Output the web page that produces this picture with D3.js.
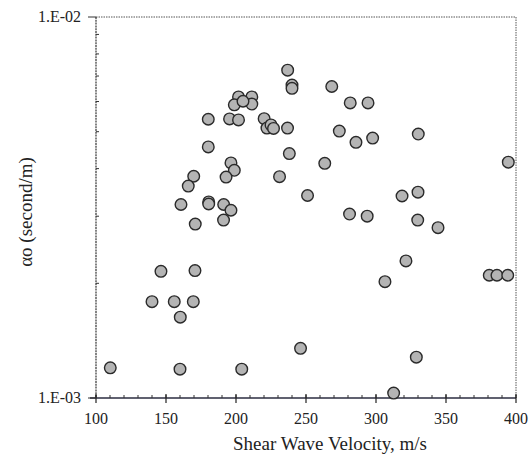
<!DOCTYPE html>
<html>
<head>
<meta charset="utf-8">
<script src="https://cdn.jsdelivr.net/npm/d3@7"></script>
<style>
  body { margin: 0; background: #fff; }
  text { font-family: "Liberation Serif", "Times New Roman", serif; fill: #222; }
</style>
</head>
<body>
<div id="my_dataviz"></div>
<script>
// shear wave velocity (m/s) and alpha_o (second/m)
let velocity = [236.9, 240.0, 240.0, 201.8, 211.3, 198.8, 211.3, 205.0, 268.4, 281.6,
                294.3, 180.2, 195.4, 201.8, 220.1, 222.1, 225.0, 226.8, 236.8, 273.8,
                285.7, 297.6, 330.2, 180.2, 238.1, 263.4, 394.5, 196.4, 198.8, 169.8,
                192.9, 231.1, 165.9, 251.1, 318.6, 330.0, 160.7, 180.5, 180.5, 191.2,
                196.4, 281.1, 293.7, 329.8, 170.9, 191.1, 344.3, 321.4, 146.4, 170.7,
                306.4, 380.9, 386.4, 394.1, 140.0, 155.9, 169.5, 160.2, 246.1, 328.8,
                110.2, 160.0, 204.1, 312.6];

let alpha = [7.25e-3, 6.63e-3, 6.50e-3, 6.17e-3, 6.17e-3, 5.88e-3, 5.91e-3, 6.01e-3, 6.57e-3, 5.95e-3,
             5.95e-3, 5.39e-3, 5.40e-3, 5.37e-3, 5.41e-3, 5.11e-3, 5.21e-3, 5.10e-3, 5.11e-3, 5.02e-3,
             4.69e-3, 4.81e-3, 4.93e-3, 4.56e-3, 4.38e-3, 4.13e-3, 4.16e-3, 4.14e-3, 3.96e-3, 3.82e-3,
             3.80e-3, 3.81e-3, 3.60e-3, 3.40e-3, 3.39e-3, 3.47e-3, 3.22e-3, 3.27e-3, 3.23e-3, 3.22e-3,
             3.11e-3, 3.04e-3, 3.00e-3, 2.93e-3, 2.86e-3, 2.93e-3, 2.80e-3, 2.29e-3, 2.15e-3, 2.16e-3,
             2.02e-3, 2.10e-3, 2.10e-3, 2.10e-3, 1.79e-3, 1.79e-3, 1.79e-3, 1.63e-3, 1.35e-3, 1.28e-3,
             1.20e-3, 1.19e-3, 1.19e-3, 1.03e-3];

let xTicks = [100, 150, 200, 250, 300, 350, 400];
let yTicks = [1e-3, 1e-2];
let yTickLabels = ["1.E-03", "1.E-02"];
let xMinor = d3.range(100, 401, 10);
let yMinor = [2e-3, 3e-3, 4e-3, 5e-3, 6e-3, 7e-3, 8e-3, 9e-3];

var W = 529, H = 464;
var plot = {left: 96, right: 516, top: 17, bottom: 398};

var svg = d3.select("#my_dataviz")
    .append("svg")
    .attr("width", W)
    .attr("height", H);

var x = d3.scaleLinear().domain([100, 400]).range([plot.left, plot.right]);
var y = d3.scaleLog().domain([1e-3, 1e-2]).range([plot.bottom, plot.top]);

// frame: top and right dotted like the scan
svg.append("line")
    .attr("x1", plot.left).attr("x2", plot.right).attr("y1", plot.top).attr("y2", plot.top)
    .attr("stroke", "#555").attr("stroke-width", 1).attr("stroke-dasharray", "1.5,1");
svg.append("line")
    .attr("x1", plot.right).attr("x2", plot.right).attr("y1", plot.top).attr("y2", plot.bottom)
    .attr("stroke", "#555").attr("stroke-width", 1).attr("stroke-dasharray", "1.5,1");
svg.append("line")
    .attr("x1", plot.left).attr("x2", plot.left).attr("y1", plot.top).attr("y2", plot.bottom)
    .attr("stroke", "#333").attr("stroke-width", 1.2).attr("stroke-dasharray", "2,0.8");

// x axis
var xAxis = svg.append("g").attr("transform", "translate(0," + plot.bottom + ")");
xAxis.append("line")
    .attr("x1", plot.left - 6).attr("x2", plot.right).attr("stroke", "#2b2d40").attr("stroke-width", 1.5);
xAxis.selectAll(".minor")
    .data(xMinor)
    .enter().append("line")
    .attr("x1", function(d) { return x(d); })
    .attr("x2", function(d) { return x(d); })
    .attr("y1", 0).attr("y2", -3)
    .attr("stroke", "#333").attr("stroke-width", 1);
xAxis.selectAll(".major")
    .data(xTicks)
    .enter().append("line")
    .attr("x1", function(d) { return x(d); })
    .attr("x2", function(d) { return x(d); })
    .attr("y1", 5).attr("y2", -4)
    .attr("stroke", "#222").attr("stroke-width", 1.2);
xAxis.selectAll(".lbl")
    .data(xTicks)
    .enter().append("text")
    .attr("x", function(d) { return x(d); })
    .attr("y", 26)
    .attr("text-anchor", "middle")
    .style("font-size", "16px")
    .text(function(d) { return d; });

// y axis
var yAxis = svg.append("g").attr("transform", "translate(" + plot.left + ",0)");
yAxis.selectAll(".minor")
    .data(yMinor)
    .enter().append("line")
    .attr("x1", 0).attr("x2", 3)
    .attr("y1", function(d) { return y(d); })
    .attr("y2", function(d) { return y(d); })
    .attr("stroke", "#333").attr("stroke-width", 1);
yAxis.selectAll(".major")
    .data(yTicks)
    .enter().append("line")
    .attr("x1", -8).attr("x2", 0)
    .attr("y1", function(d) { return y(d); })
    .attr("y2", function(d) { return y(d); })
    .attr("stroke", "#333").attr("stroke-width", 1);
yAxis.selectAll(".lbl")
    .data(yTicks)
    .enter().append("text")
    .attr("x", -15)
    .attr("y", function(d) { return y(d); })
    .attr("dy", "0.33em")
    .attr("text-anchor", "end")
    .style("font-size", "16px")
    .text(function(d, i) { return yTickLabels[i]; });

// titles
svg.append("text")
    .attr("x", 330).attr("y", 450)
    .attr("text-anchor", "middle")
    .style("font-size", "19px")
    .text("Shear Wave Velocity, m/s");
svg.append("text")
    .attr("transform", "translate(32,212) rotate(-90)")
    .attr("text-anchor", "middle")
    .style("font-size", "19px")
    .text("αo (second/m)");

// points
var pts = velocity.map(function(v, i) { return {v: v, a: alpha[i]}; });
svg.selectAll(".pt")
    .data(pts)
    .enter().append("circle")
    .attr("cx", function(d) { return x(d.v); })
    .attr("cy", function(d) { return y(d.a); })
    .attr("r", 5.8)
    .attr("fill", "#b4b4b4")
    .attr("stroke", "#2a2a2a")
    .attr("stroke-width", 1.4);
</script>
</body>
</html>
